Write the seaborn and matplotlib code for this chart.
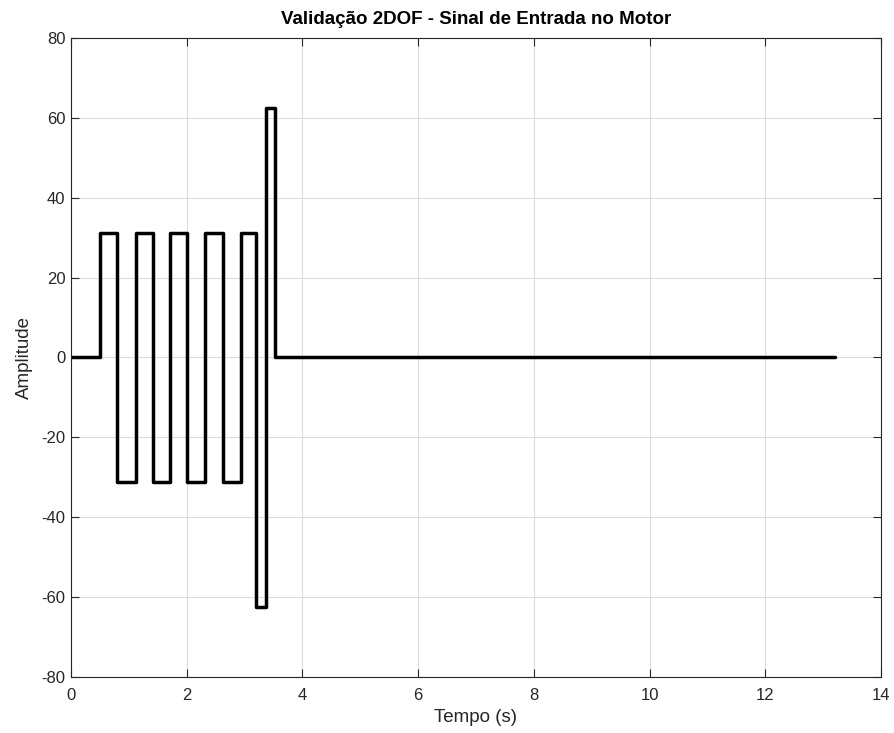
import matplotlib
matplotlib.use("Agg")
import matplotlib.pyplot as plt
import seaborn as sns
import pandas as pd

# Data: step transition times (s) and amplitude after each transition
times = [0.0, 0.5, 0.8, 1.12, 1.42, 1.71, 2.0, 2.31, 2.62, 2.93, 3.2, 3.37, 3.53, 13.2]
levels = [0.0, 31.25, -31.25, 31.25, -31.25, 31.25, -31.25, 31.25, -31.25, 31.25, -62.5, 62.5, 0.0, 0.0]
xticks = [0, 2, 4, 6, 8, 10, 12, 14]
yticks = [-80, -60, -40, -20, 0, 20, 40, 60, 80]

sns.set_theme(style="white")
plt.rcParams['font.family'] = ['Liberation Sans', 'DejaVu Sans']
plt.rcParams['axes.unicode_minus'] = False

df = pd.DataFrame({"t": times, "u": levels})

fig = plt.figure(figsize=(8.95, 7.33), dpi=100)
ax = fig.add_axes([71/895, 1-677/733, (881-71)/895, (677-38)/733])

sns.lineplot(data=df, x="t", y="u", ax=ax, color="black", linewidth=2.5,
             drawstyle="steps-post", estimator=None, sort=False)

ax.set_xlim(0, 14)
ax.set_ylim(-80, 80)
ax.set_xticks(xticks)
ax.set_yticks(yticks)
ax.grid(True, color="#dcdcdc", linewidth=0.8)
ax.set_axisbelow(True)
for s in ax.spines.values():
    s.set_color("#262626")
    s.set_linewidth(0.8)
ax.tick_params(direction="in", length=6, width=0.8, colors="#262626",
               labelsize=12, top=True, right=True, bottom=True, left=True,
               labelcolor="#262626")
ax.tick_params(axis="x", pad=8)
ax.tick_params(axis="y", pad=4)
ax.set_xlabel("Tempo (s)", fontsize=13.5, color="#262626", labelpad=4)
ax.set_ylabel("Amplitude", fontsize=13.5, color="#262626", labelpad=6)
ax.set_title("Validação 2DOF - Sinal de Entrada no Motor", fontsize=13.5,
             fontweight="bold", color="black", pad=10)

fig.savefig("out.png", dpi=100)
